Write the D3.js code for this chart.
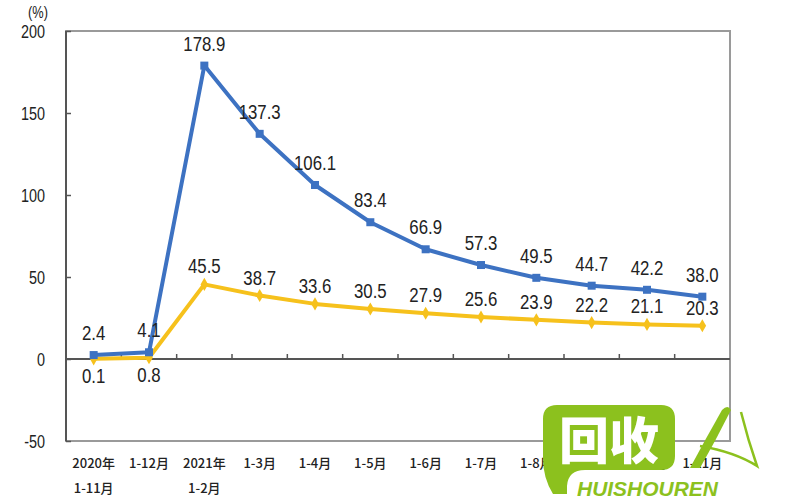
<!DOCTYPE html>
<html><head><meta charset="utf-8">
<script src="https://cdn.jsdelivr.net/npm/d3@7"></script>
<style>body{margin:0;background:#fff}svg{display:block}</style>
</head><body>
<svg id="c" width="800" height="500"></svg>
<script>
const categories = ["2020年\n1-11月","1-12月","2021年\n1-2月","1-3月","1-4月","1-5月","1-6月","1-7月","1-8月","1-9月","1-10月","1-11月"];
const seriesBlue = [2.4,4.1,178.9,137.3,106.1,83.4,66.9,57.3,49.5,44.7,42.2,38.0];
const seriesYellow = [0.1,0.8,45.5,38.7,33.6,30.5,27.9,25.6,23.9,22.2,21.1,20.3];
const yTicks = [-50,0,50,100,150,200];

const svg = d3.select("#c");
const L=66,R=730,T=31,B=441;
const x = d3.scaleBand().domain(categories).range([L,R]).padding(0);
const y = d3.scaleLinear().domain([-50,200]).range([B,T]);
const numFont = "'Liberation Sans',Arial,sans-serif";
const cjkFont = "'Noto Sans CJK SC','Noto Sans',sans-serif";
const blue="#3d72c2", yellow="#f6c11c";
const SX = 0.8;

function narrowText(sel, px, py, size, anchor, txt){
  return sel.append("text")
    .attr("transform",`translate(${px},${py}) scale(${SX},1)`)
    .attr("text-anchor",anchor)
    .style("font-family",numFont).style("font-size",size+"px").attr("fill","#222")
    .text(txt);
}

// frame
svg.append("rect").attr("x",L).attr("y",T).attr("width",R-L).attr("height",B-T)
  .attr("fill","none").attr("stroke","#9a9a9a").attr("stroke-width",2);
svg.append("line").attr("x1",L).attr("x2",L).attr("y1",T).attr("y2",B).attr("stroke","#555").attr("stroke-width",2);

// y axis ticks inward
const yAxis = d3.axisLeft(y).tickValues(yTicks).tickSize(-5).tickFormat("");
const ya = svg.append("g").attr("transform",`translate(${L},0)`).call(yAxis);
ya.select(".domain").remove();
ya.selectAll(".tick line").attr("stroke","#555").attr("stroke-width",1.5);
// y labels (hyphen minus like reference)
const yl = svg.append("g");
yTicks.forEach(v=>{
  narrowText(yl, 45, y(v)+6.5, 18, "end", String(v));
});

// zero line with category boundary ticks
svg.append("line").attr("x1",L).attr("x2",R).attr("y1",y(0)).attr("y2",y(0)).attr("stroke","#555").attr("stroke-width",2);
const bounds = categories.slice(1).map(c=>x(c));
svg.selectAll(".bt").data(bounds).enter().append("line")
  .attr("x1",d=>d).attr("x2",d=>d).attr("y1",y(0)).attr("y2",y(0)-5).attr("stroke","#555").attr("stroke-width",1.5);

// (%) label
narrowText(svg, 38, 18, 16, "middle", "(%)");

// x labels
const xl = svg.append("g");
categories.forEach(c=>{
  const lines=c.split("\n");
  const t = xl.append("text").attr("text-anchor","middle").attr("fill","#222")
    .style("font-family",cjkFont).style("font-size","13px").style("font-weight","500");
  lines.forEach((ln,i)=>{
    t.append("tspan").attr("x",x(c)+x.bandwidth()/2).attr("y",468+i*25).text(ln);
  });
});

const cx = (d,i)=>x(categories[i])+x.bandwidth()/2;
const line = d3.line().x((d,i)=>cx(d,i)).y(d=>y(d));

// yellow series
svg.append("path").datum(seriesYellow).attr("d",line).attr("fill","none")
  .attr("stroke",yellow).attr("stroke-width",4).attr("stroke-linejoin","round");
svg.selectAll(".ym").data(seriesYellow).enter().append("path")
  .attr("d",d3.symbol().type(d3.symbolDiamond).size(50))
  .attr("transform",(d,i)=>`translate(${cx(d,i)},${y(d)})`).attr("fill",yellow);

// blue series
svg.append("path").datum(seriesBlue).attr("d",line).attr("fill","none")
  .attr("stroke",blue).attr("stroke-width",4).attr("stroke-linejoin","round");
svg.selectAll(".bm").data(seriesBlue).enter().append("rect")
  .attr("x",(d,i)=>cx(d,i)-4).attr("y",d=>y(d)-4).attr("width",8).attr("height",8).attr("fill",blue);

// data labels
const dl = svg.append("g");
seriesBlue.forEach((d,i)=>narrowText(dl, cx(d,i), y(d)-15, 21, "middle", d.toFixed(1)));
seriesYellow.forEach((d,i)=>narrowText(dl, cx(d,i), d<1 ? y(d)+24 : y(d)-11, 21, "middle", d.toFixed(1)));

// watermark
const g="#8cc11e";
const wm = svg.append("g");
wm.append("path").attr("fill",g)
  .attr("d","M557 405 H661 Q675 405 675 419 V456 Q675 470 661 470 H585 Q568 470 567 486 V494 H553 Q543 478 543 458 V419 Q543 405 557 405 Z");
wm.append("text").attr("x",609).attr("y",459).attr("text-anchor","middle").attr("fill","#fff")
  .style("font-family",cjkFont).style("font-weight","900").style("font-size","50px").text("回收");
wm.append("text").attr("x",577).attr("y",496).attr("textLength",141).attr("lengthAdjust","spacingAndGlyphs")
  .attr("fill",g).style("font-family","'Liberation Sans',Arial,sans-serif").style("font-weight","bold")
  .style("font-style","italic").style("font-size","21px").text("HUISHOUREN");
wm.append("path").attr("fill",g)
  .attr("d","M690 468 Q705 440 722 410 Q728 404 731 410 Q716 440 700 468 Z");
wm.append("path").attr("fill","none").attr("stroke",g).attr("stroke-width",2.5)
  .attr("d","M741 412 Q748 440 757 466 Q735 452 700 446");
</script>
</body></html>
